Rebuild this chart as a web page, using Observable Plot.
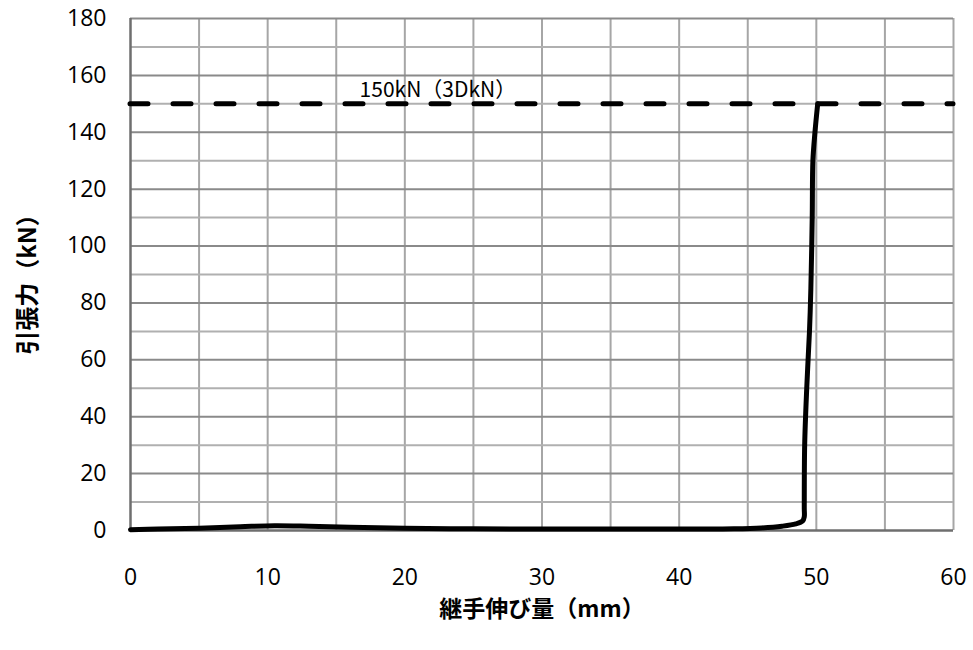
<!DOCTYPE html>
<html>
<head>
<meta charset="utf-8">
<script src="https://cdn.jsdelivr.net/npm/d3@7"></script>
<script src="https://cdn.jsdelivr.net/npm/@observablehq/plot@0.6"></script>
<style>
  html, body { margin: 0; padding: 0; background: #fff; }
</style>
</head>
<body>
<div id="chart"></div>
<script>
// Data
const elongation = [0, 2, 5, 8, 10.5, 13, 16, 20, 25, 30, 35, 40, 44, 46, 47.5, 48.5, 49.0, 49.12, 49.12, 49.15, 49.3, 49.5, 49.6, 49.7, 49.75, 49.9, 50.1];
const tension    = [0.3, 0.5, 0.8, 1.3, 1.7, 1.5, 1.1, 0.8, 0.6, 0.5, 0.5, 0.5, 0.6, 0.9, 1.5, 2.3, 3.3, 4.8, 8, 30, 50, 70, 85, 110, 130, 140, 150];
const xTicks = [0, 10, 20, 30, 40, 50, 60];
const yTicks = [0, 20, 40, 60, 80, 100, 120, 140, 160, 180];
const xGrid = [5, 10, 15, 20, 25, 30, 35, 40, 45, 50, 55, 60];
const yMinorGrid = [10, 30, 50, 70, 90, 110, 130, 150, 170];
const yMajorGrid = [20, 40, 60, 80, 100, 120, 140, 160, 180];
const limitLoad = [150];
const limitLabel = ["150kN（3DkN）"];
const limitLabelX = [16.7];
const xTitle = "継手伸び量（mm）";
const yTitle = "引張力（kN）";

const curve = elongation.map((x, i) => ({x, y: tension[i]}));
const labelData = limitLabel.map((t, i) => ({t, x: limitLabelX[i], y: limitLoad[i]}));

const chart = Plot.plot({
  width: 973,
  height: 650,
  marginLeft: 130,
  marginRight: 20,
  marginTop: 18,
  marginBottom: 120,
  style: {fontFamily: "'Open Sans', sans-serif", background: "#fff", overflow: "visible"},
  x: {domain: [0, 60]},
  y: {domain: [0, 180]},
  marks: [
    Plot.ruleX(xGrid, {stroke: "#a6a6a6", strokeWidth: 2}),
    Plot.ruleY(yMinorGrid, {stroke: "#b0b0b0", strokeWidth: 2}),
    Plot.ruleY(yMajorGrid, {stroke: "#8a8a8a", strokeWidth: 2}),
    Plot.ruleX([0], {stroke: "#6e6e6e", strokeWidth: 2.5}),
    Plot.ruleY([0], {stroke: "#6e6e6e", strokeWidth: 2.5}),
    Plot.axisX({ticks: xTicks, tickSize: 0, tickPadding: 38, fontSize: 23, tickFormat: d => String(d), label: null, fill: "#000"}),
    Plot.axisY({ticks: yTicks, tickSize: 0, tickPadding: 24, fontSize: 23, tickFormat: d => String(d), label: null, fill: "#000"}),
    Plot.ruleY(limitLoad, {stroke: "#000", strokeWidth: 5, strokeDasharray: "18,25", strokeLinecap: "round"}),
    Plot.text(labelData, {x: "x", y: "y", text: "t", textAnchor: "start", lineAnchor: "bottom", dy: -7,
      fontSize: 21, fontFamily: "'Noto Sans CJK JP', sans-serif", fill: "#000"}),
    Plot.line(curve, {x: "x", y: "y", stroke: "#000", strokeWidth: 5, curve: "catmull-rom", strokeLinejoin: "round", strokeLinecap: "round"}),
    Plot.text([xTitle], {frameAnchor: "bottom", textAnchor: "middle", lineAnchor: "middle", dy: 79, text: d => d, fontSize: 23, fontWeight: "bold",
      fontFamily: "'Noto Sans CJK JP', sans-serif", fill: "#000"}),
    Plot.text([yTitle], {frameAnchor: "left", textAnchor: "middle", lineAnchor: "middle", dx: -102, dy: 4, rotate: -90, text: d => d, fontSize: 24, fontWeight: "bold",
      fontFamily: "'Noto Sans CJK JP', sans-serif", fill: "#000"})
  ]
});
document.getElementById("chart").appendChild(chart);
</script>
</body>
</html>
